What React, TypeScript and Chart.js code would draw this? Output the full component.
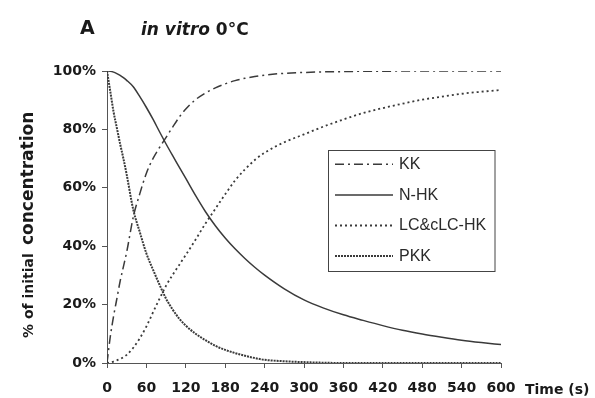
import React, { useEffect, useRef } from "react";
import { Chart, registerables } from "chart.js";

Chart.register(...registerables);

const times = [0, 5, 10, 15, 20, 25, 30, 40, 50, 60, 70, 80, 90, 100, 110, 120, 135, 150, 165, 180, 195, 210, 225, 240, 270, 300, 330, 360, 390, 420, 450, 480, 510, 540, 570, 600];

const kk = [0, 9, 16, 22, 28, 33, 38, 50, 58, 65, 70, 73.8, 77.3, 80.8, 84.2, 87, 90.2, 92.5, 94.2, 95.6, 96.7, 97.5, 98.1, 98.6, 99.2, 99.5, 99.7, 99.8, 99.9, 99.9, 100, 100, 100, 100, 100, 100];
const nhk = [100, 99.9, 99.6, 99.1, 98.5, 97.7, 96.8, 94.6, 91.2, 87.5, 83.5, 79.2, 75, 71, 67.1, 63.2, 57.3, 51.8, 47, 42.8, 39.1, 35.8, 32.8, 30.1, 25.4, 21.6, 18.8, 16.5, 14.6, 12.8, 11.2, 9.9, 8.8, 7.8, 7, 6.3];
const lc = [0, 0.2, 0.5, 0.9, 1.4, 2, 2.8, 5.2, 8.5, 12.5, 17.3, 22, 26.5, 30.2, 33.6, 37, 42.3, 47.8, 52.8, 57.8, 62.5, 66.3, 69.5, 72, 75.6, 78.3, 81, 83.4, 85.6, 87.3, 88.8, 90.2, 91.2, 92.2, 92.9, 93.5];
const pkk = [100, 93, 86, 80.5, 75, 70, 64.5, 52.5, 44.8, 37.5, 32, 26.8, 22, 18.3, 15.2, 12.8, 10, 7.8, 5.9, 4.5, 3.4, 2.5, 1.7, 1.1, 0.6, 0.3, 0.1, 0, 0, 0, 0, 0, 0, 0, 0, 0];

const seriesNames = ["KK", "N-HK", "LC&cLC-HK", "PKK"];
const xTicks = [0, 60, 120, 180, 240, 300, 360, 420, 480, 540, 600];
const yTicks = [0, 20, 40, 60, 80, 100];

const LINE = "#3a3a3a";
const dashes: number[][] = [[9, 4, 2, 4], [], [2, 3], [2, 1]];
const widths = [1.5, 1.5, 1.8, 2];

const decor = {
  id: "decor",
  afterDraw(chart: any) {
    const ctx = chart.ctx as CanvasRenderingContext2D;
    ctx.save();
    ctx.fillStyle = "#1a1a1a";
    ctx.textBaseline = "alphabetic";
    // Title
    ctx.font = 'bold 19px "DejaVu Sans"';
    ctx.fillText("A", 80, 33.5);
    ctx.font = 'italic bold 17px "DejaVu Sans"';
    const t1 = "in vitro ";
    ctx.fillText(t1, 141, 35);
    const w1 = ctx.measureText(t1).width;
    ctx.font = 'bold 17px "DejaVu Sans"';
    ctx.fillText("0°C", 141 + w1, 35);

    // Y title
    ctx.save();
    ctx.translate(33, 219);
    ctx.rotate(-Math.PI / 2);
    ctx.font = 'bold 14px "DejaVu Sans"';
    ctx.fillText("% of initial", -119, 0);
    ctx.font = 'bold 17px "DejaVu Sans"';
    ctx.fillText("concentration", -26, 0);
    ctx.restore();

    // X title
    ctx.font = 'bold 14px "DejaVu Sans"';
    ctx.fillText("Time (s)", 525, 394);

    // Legend
    ctx.strokeStyle = "#444";
    ctx.lineWidth = 1;
    ctx.setLineDash([]);
    ctx.strokeRect(328.5, 150.5, 166.5, 121);
    ctx.font = '16px "Liberation Sans"';
    ctx.textBaseline = "middle";
    ctx.fillStyle = "#2a2a2a";
    seriesNames.forEach((name, i) => {
      const y = 164.3 + i * 30.6;
      ctx.beginPath();
      ctx.strokeStyle = LINE;
      ctx.lineWidth = widths[i];
      ctx.setLineDash(dashes[i]);
      ctx.moveTo(335, y);
      ctx.lineTo(393, y);
      ctx.stroke();
      ctx.fillText(name, 399, y + 0.5);
    });
    ctx.restore();
  },
};

export default function App() {
  const ref = useRef<HTMLCanvasElement | null>(null);
  useEffect(() => {
    document.body.style.margin = "0";
    const series = [kk, nhk, lc, pkk];
    const chart = new Chart(ref.current!, {
      type: "line",
      data: {
        datasets: series.map((vals, i) => ({
          label: seriesNames[i],
          data: times.map((t, j) => ({ x: t, y: vals[j] })),
          borderColor: LINE,
          borderWidth: widths[i],
          borderDash: dashes[i],
          pointRadius: 0,
          fill: false,
          cubicInterpolationMode: "monotone" as const,
        })),
      },
      options: {
        responsive: false,
        animation: false,
        layout: { padding: { left: 0, top: 71, right: 94, bottom: 0 } },
        plugins: { legend: { display: false }, tooltip: { enabled: false }, title: { display: false } },
        scales: {
          x: {
            type: "linear",
            min: 0,
            max: 600,
            afterFit: (s: any) => { s.height = 35; },
            afterBuildTicks: (s: any) => { s.ticks = xTicks.map((v) => ({ value: v })); },
            ticks: {
              autoSkip: false,
              maxRotation: 0,
              padding: 12,
              color: "#1a1a1a",
              font: { family: "DejaVu Sans", size: 14, weight: "bold" },
            },
            grid: { drawOnChartArea: false, drawTicks: true, tickLength: 5, color: "#555" },
            border: { display: true, color: "#555", width: 1 },
          },
          y: {
            min: 0,
            max: 100,
            afterFit: (s: any) => { s.width = 107; },
            afterBuildTicks: (s: any) => { s.ticks = yTicks.map((v) => ({ value: v })); },
            ticks: {
              padding: 6,
              color: "#1a1a1a",
              font: { family: "DejaVu Sans", size: 14, weight: "bold" },
              callback: (v: any) => v + "%",
            },
            grid: { drawOnChartArea: false, drawTicks: true, tickLength: 5, color: "#555" },
            border: { display: true, color: "#555", width: 1 },
          },
        },
      },
      plugins: [decor],
    });
    return () => chart.destroy();
  }, []);
  return (
    <div style={{ position: "fixed", left: 0, top: 0, width: 595, height: 398, background: "#fff" }}>
      <canvas ref={ref} width={595} height={398} style={{ width: 595, height: 398 }} />
    </div>
  );
}
